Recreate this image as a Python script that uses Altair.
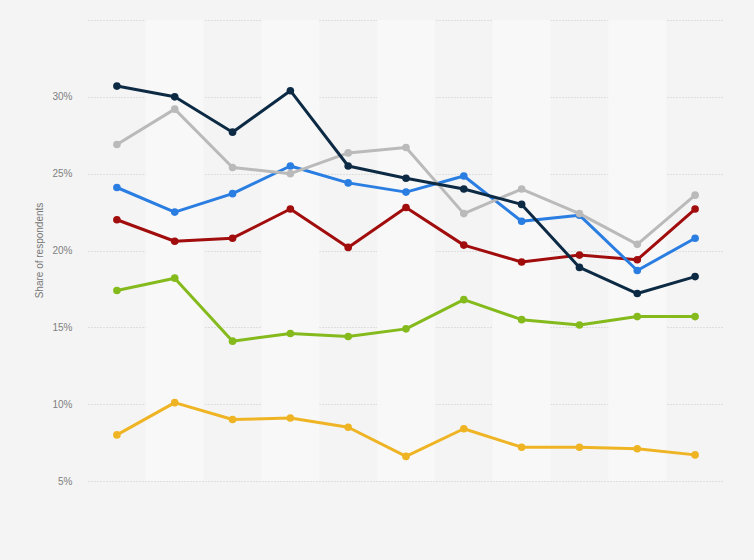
import altair as alt
import pandas as pd

# x positions (11 survey waves, no labels shown in the reference)
periods = list(range(11))
series_names = ["Yellow", "Green", "Red", "Blue", "Gray", "Navy"]
series_colors = ["#efb424", "#84ba1c", "#a10c0c", "#2a7de1", "#bababa", "#0d2a45"]

yellow = [8.0, 10.1, 9.0, 9.1, 8.5, 6.6, 8.4, 7.2, 7.2, 7.1, 6.7]
green = [17.4, 18.2, 14.1, 14.6, 14.4, 14.9, 16.8, 15.5, 15.15, 15.7, 15.7]
red = [22.0, 20.6, 20.8, 22.7, 20.2, 22.8, 20.35, 19.25, 19.7, 19.4, 22.7]
blue = [24.1, 22.5, 23.7, 25.5, 24.4, 23.8, 24.85, 21.9, 22.3, 18.7, 20.8]
gray = [26.9, 29.2, 25.4, 25.0, 26.35, 26.7, 22.4, 24.0, 22.4, 20.4, 23.6]
navy = [30.7, 30.0, 27.7, 30.4, 25.5, 24.7, 24.0, 23.0, 18.9, 17.2, 18.3]

all_values = [yellow, green, red, blue, gray, navy]

rows = []
for order, (name, vals) in enumerate(zip(series_names, all_values)):
    for p, v in zip(periods, vals):
        rows.append({"period": p, "value": v, "series": name, "layer": order})
df = pd.DataFrame(rows)

band_starts = [p - 0.5 for p in periods if p % 2 == 1]
bands = pd.DataFrame({"x0": band_starts, "x1": [b + 1 for b in band_starts]})

xscale = alt.Scale(domain=[-0.5, 10.5], nice=False, zero=False)
yscale = alt.Scale(domain=[5, 35], nice=False, zero=False)
cscale = alt.Scale(domain=series_names, range=series_colors)

band_layer = alt.Chart(bands).mark_rect(color="#f8f8f8").encode(
    x=alt.X("x0:Q", scale=xscale, axis=None),
    x2="x1:Q",
    y=alt.value(0),
    y2=alt.value(461),
)

yaxis = alt.Axis(
    values=[5, 10, 15, 20, 25, 30, 35],
    labelExpr="datum.value == 35 ? '' : datum.value + '%'",
    title="Share of respondents",
    titleFont="Liberation Sans",
    titleFontSize=10,
    titleFontWeight="normal",
    titleColor="#777777",
    titleX=-49,
    titleY=230,
    titleAngle=-90,
    titleAlign="center",
    titleBaseline="middle",
    labelFont="Liberation Sans",
    labelFontSize=10,
    labelColor="#808080",
    labelPadding=16,
    domain=False,
    ticks=False,
    grid=True,
    gridColor="#c8c8c8",
    gridDash=[1, 2],
    gridWidth=1,
)

lines = alt.Chart(df).mark_line(strokeWidth=3, strokeJoin="round").encode(
    x=alt.X("period:Q", scale=xscale, axis=None),
    y=alt.Y("value:Q", scale=yscale, axis=yaxis),
    color=alt.Color("series:N", scale=cscale, legend=None),
    detail="series:N",
    order="period:Q",
)

points = alt.Chart(df).mark_circle(size=58, opacity=1).encode(
    x=alt.X("period:Q", scale=xscale, axis=None),
    y=alt.Y("value:Q", scale=yscale),
    color=alt.Color("series:N", scale=cscale, legend=None),
)

layers = [band_layer]
for name in series_names:
    layers.append(lines.transform_filter(alt.datum.series == name))
    layers.append(points.transform_filter(alt.datum.series == name))

chart = alt.layer(*layers).properties(
    width=636,
    height=461,
    background="#f4f4f4",
    padding={"left": 88, "top": 20, "right": 30, "bottom": 79},
    autosize=alt.AutoSizeParams(type="none"),
).configure_view(stroke=None)

chart.save("out.html", embed_options={"renderer": "svg", "actions": False})
